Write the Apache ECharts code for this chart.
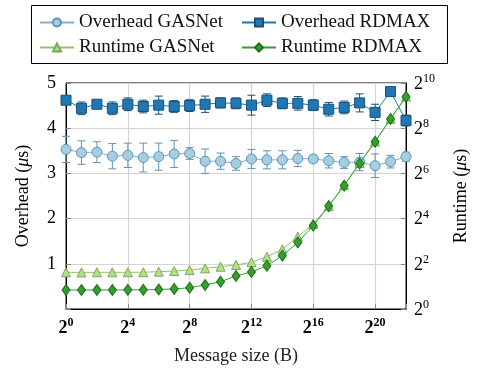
<!DOCTYPE html>
<html>
<head>
<meta charset="utf-8">
<script src="https://cdn.jsdelivr.net/npm/echarts@6/dist/echarts.min.js"></script>
<style>
  html, body { margin: 0; padding: 0; background: #fff; }
  #chart { width: 478px; height: 371px; }
</style>
</head>
<body>
<div id="chart"></div>
<script>
// message sizes in bytes (2^0 .. 2^22)
const sizes = [1, 2, 4, 8, 16, 32, 64, 128, 256, 512, 1024, 2048, 4096, 8192,
  16384, 32768, 65536, 131072, 262144, 524288, 1048576, 2097152, 4194304];

// overhead in us, with error half-widths
const overheadGasnet = [3.53, 3.46, 3.47, 3.38, 3.40, 3.35, 3.37, 3.43, 3.44, 3.27, 3.27, 3.22,
  3.32, 3.30, 3.30, 3.33, 3.32, 3.28, 3.24, 3.25, 3.17, 3.26, 3.37];
const overheadGasnetErr = [0.29, 0.26, 0.23, 0.28, 0.27, 0.32, 0.30, 0.30, 0.13, 0.27, 0.18, 0.15,
  0.21, 0.20, 0.20, 0.18, 0.08, 0.16, 0.13, 0.19, 0.26, 0.14, 0.10];
const overheadRdmax = [4.62, 4.44, 4.53, 4.44, 4.53, 4.48, 4.51, 4.48, 4.50, 4.53, 4.56, 4.55,
  4.51, 4.62, 4.55, 4.55, 4.51, 4.42, 4.46, 4.56, 4.35, 4.81, 4.17];
const overheadRdmaxErr = [0.08, 0.14, 0.08, 0.14, 0.14, 0.14, 0.20, 0.13, 0.13, 0.18, 0.11, 0.12,
  0.22, 0.14, 0.12, 0.15, 0.12, 0.15, 0.14, 0.20, 0.18, 0.08, 0.12];

// runtime in us (right, log2 axis)
const runtimeGasnet = [3.08, 3.07, 3.08, 3.08, 3.08, 3.09, 3.14, 3.2, 3.3, 3.48, 3.66, 3.86,
  4.19, 4.97, 6.24, 9.2, 13.6, 23.5, 44.5, 88, 170, 342, 675];
const runtimeRdmax = [1.79, 1.79, 1.79, 1.79, 1.80, 1.80, 1.82, 1.85, 1.92, 2.09, 2.31, 2.75,
  3.12, 3.78, 5.13, 7.7, 12.9, 23.5, 44, 87, 169, 340, 671];

const leftTicks = [1, 2, 3, 4, 5];
const xTickExps = [0, 4, 8, 12, 16, 20];

const FONT = '"Liberation Serif", "DejaVu Serif", serif';
const C = {
  ohG: '#a6cee3', ohGd: '#5e93b5',
  ohR: '#1f78b4', ohRd: '#17507c',
  rtG: '#b2df8a', rtGd: '#79a85a',
  rtR: '#33a02c', rtRd: '#1f6e1a'
};

function pow2Label(v) {
  const e = Math.round(Math.log2(v));
  return '{b|2}{s|' + e + '}';
}

function xLabel(v) {
  const e = Math.round(Math.log2(v));
  return xTickExps.indexOf(e) >= 0 ? '{b|2}{s|' + e + '}' : '';
}

function errData(vals, errs) {
  return sizes.map((s, i) => [s, vals[i] - errs[i], vals[i] + errs[i]]);
}

function errorBars(name, vals, errs, color) {
  return {
    type: 'custom',
    name: name,
    xAxisIndex: 0,
    yAxisIndex: 0,
    z: 1,
    silent: true,
    data: errData(vals, errs),
    renderItem: (params, api) => {
      const lo = api.coord([api.value(0), api.value(1)]);
      const hi = api.coord([api.value(0), api.value(2)]);
      const w = 4;
      const style = { stroke: color, lineWidth: 1 };
      return {
        type: 'group',
        children: [
          { type: 'line', shape: { x1: lo[0], y1: lo[1], x2: hi[0], y2: hi[1] }, style },
          { type: 'line', shape: { x1: lo[0] - w, y1: lo[1], x2: lo[0] + w, y2: lo[1] }, style },
          { type: 'line', shape: { x1: hi[0] - w, y1: hi[1], x2: hi[0] + w, y2: hi[1] }, style }
        ]
      };
    }
  };
}

function pairs(vals) {
  return sizes.map((s, i) => [s, vals[i]]);
}

const supRich = {
  b: { fontFamily: FONT, fontSize: 18, color: '#000', lineHeight: 20, verticalAlign: 'bottom' },
  s: { fontFamily: FONT, fontSize: 12, color: '#000', lineHeight: 16, verticalAlign: 'top' }
};

const chart = echarts.init(document.getElementById('chart'));
const option = {
  animation: false,
  textStyle: { fontFamily: FONT },
  grid: { left: 66, right: 71, top: 83, bottom: 62, show: true, borderColor: '#000', borderWidth: 1 },
  legend: [
    {
      orient: 'vertical', left: 34, top: 8, itemGap: 6, itemWidth: 34, itemHeight: 10,
      textStyle: { fontFamily: FONT, fontSize: 19, color: '#111' },
      data: ['Overhead GASNet', 'Runtime GASNet']
    },
    {
      orient: 'vertical', left: 236, top: 8, itemGap: 6, itemWidth: 34, itemHeight: 10,
      textStyle: { fontFamily: FONT, fontSize: 19, color: '#111' },
      data: ['Overhead RDMAX', 'Runtime RDMAX']
    }
  ],
  graphic: [
    { type: 'rect', left: 29, top: 3, shape: { width: 416, height: 58 },
      style: { fill: 'none', stroke: '#000', lineWidth: 1 }, z: -1 }
  ],
  xAxis: {
    type: 'log', logBase: 2, min: 1, max: 4194304, interval: 4,
    name: 'Message size (B)', nameLocation: 'middle', nameGap: 38,
    nameTextStyle: { fontFamily: FONT, fontSize: 18, color: '#222' },
    axisLine: { show: true, lineStyle: { color: '#000' } },
    axisTick: { show: true, inside: true, length: 5, lineStyle: { color: '#888' } },
    minorTick: { show: false },
    splitLine: { show: true, lineStyle: { color: '#d4d4d4', width: 1.2 } },
    axisLabel: {
      margin: 8, formatter: xLabel,
      rich: {
        b: Object.assign({}, supRich.b, { fontWeight: 'bold' }),
        s: Object.assign({}, supRich.s, { fontWeight: 'bold' })
      }
    }
  },
  yAxis: [
    {
      type: 'value', min: 0, max: 5, interval: 1, position: 'left',
      name: 'Overhead ({i|μ}s)', nameLocation: 'middle', nameGap: 34, nameRotate: 90,
      nameTextStyle: {
        fontFamily: FONT, fontSize: 18, color: '#000',
        rich: { i: { fontFamily: FONT, fontSize: 18, fontStyle: 'italic', color: '#000' } }
      },
      axisLine: { show: true, lineStyle: { color: '#000' } },
      axisTick: { show: true, inside: true, length: 5, lineStyle: { color: '#888' } },
      splitLine: { show: true, lineStyle: { color: '#d4d4d4', width: 1.2 } },
      axisLabel: {
        margin: 10, fontFamily: FONT, fontSize: 18, color: '#000',
        formatter: v => (leftTicks.indexOf(v) >= 0 ? String(v) : '')
      }
    },
    {
      type: 'log', logBase: 2, min: 1, max: 1024, interval: 2, position: 'right',
      name: 'Runtime ({i|μ}s)', nameLocation: 'middle', nameGap: 46, nameRotate: 90,
      nameTextStyle: {
        fontFamily: FONT, fontSize: 18, color: '#000',
        rich: { i: { fontFamily: FONT, fontSize: 18, fontStyle: 'italic', color: '#000' } }
      },
      axisLine: { show: true, lineStyle: { color: '#000' } },
      axisTick: { show: true, inside: true, length: 5, lineStyle: { color: '#888' } },
      minorTick: { show: false },
      splitLine: { show: false },
      axisLabel: { margin: 8, formatter: pow2Label, rich: supRich }
    }
  ],
  series: [
    errorBars('errG', overheadGasnet, overheadGasnetErr, C.ohGd),
    errorBars('errR', overheadRdmax, overheadRdmaxErr, C.ohRd),
    {
      name: 'Overhead GASNet', type: 'line', yAxisIndex: 0, z: 3,
      data: pairs(overheadGasnet),
      symbol: 'circle', symbolSize: 10,
      lineStyle: { color: '#7fb0cf', width: 1 },
      itemStyle: { color: C.ohG, borderColor: C.ohGd, borderWidth: 1 }
    },
    {
      name: 'Overhead RDMAX', type: 'line', yAxisIndex: 0, z: 3,
      data: pairs(overheadRdmax),
      symbol: 'rect', symbolSize: 10,
      lineStyle: { color: C.ohR, width: 1 },
      itemStyle: { color: C.ohR, borderColor: C.ohRd, borderWidth: 1 }
    },
    {
      name: 'Runtime GASNet', type: 'line', yAxisIndex: 1, z: 3,
      data: pairs(runtimeGasnet),
      symbol: 'triangle', symbolSize: 9,
      lineStyle: { color: '#8cc46a', width: 1 },
      itemStyle: { color: C.rtG, borderColor: C.rtGd, borderWidth: 1 }
    },
    {
      name: 'Runtime RDMAX', type: 'line', yAxisIndex: 1, z: 4,
      data: pairs(runtimeRdmax),
      symbol: 'diamond', symbolSize: [8, 11],
      lineStyle: { color: C.rtR, width: 1 },
      itemStyle: { color: C.rtR, borderColor: C.rtRd, borderWidth: 1 }
    }
  ]
};
chart.setOption(option);
</script>
</body>
</html>
